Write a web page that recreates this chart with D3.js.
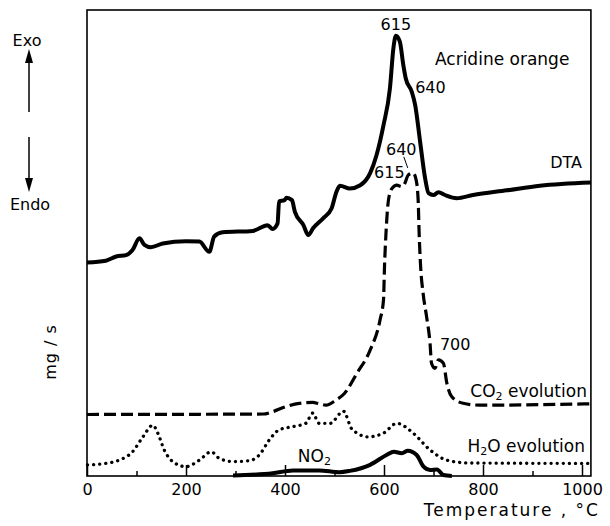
<!DOCTYPE html>
<html>
<head>
<meta charset="utf-8">
<script src="https://cdn.jsdelivr.net/npm/d3@7"></script>
<style>
  body { margin: 0; background: #fff; }
  text { font-family: "DejaVu Sans", sans-serif; font-size: 16px; fill: #000; }
  .tick line { stroke: #000; stroke-width: 1.5px; }
  .domain { display: none; }
</style>
</head>
<body>
<svg id="chart" width="610" height="526"></svg>
<script>
// temperature (°C) vs. arbitrary signal height
var dta = [[0,45.8],[38,46.2],[59,47.1],[79,47.4],[92,48.5],[106,51.0],[116,49.6],[129,49.1],
  [153,49.9],[200,50.4],[227,50.3],[247,48.1],[257,51.4],[274,52.3],[335,52.6],[365,53.8],
  [375,53.0],[385,54.2],[388,58.9],[399,59.2],[403,59.7],[414,59.2],[420,56.7],[437,53.9],
  [447,51.7],[457,53.2],[477,55.3],[494,57.4],[504,61.0],[511,62.3],[531,61.7],[552,62.4],
  [572,65.0],[585,68.9],[599,75.3],[612,83.2],[619,91.8],[624,94.5],[632,93.2],[639,88.2],
  [644,85.3],[656,82.5],[663,79.6],[673,71.7],[683,63.9],[690,60.7],[700,60.3],[710,60.9],
  [723,60.3],[747,59.6],[780,60.3],[848,61.3],[915,62.3],[1018,63.0]];

var co2 = [[0,13.2],[356,13.3],[375,13.8],[402,14.9],[429,15.6],[456,15.8],[469,15.5],[483,15.2],
  [503,16.3],[520,17.7],[545,22.0],[572,27.0],[592,33.5],[599,37.8],[601,44.9],[604,52.1],
  [609,59.2],[616,61.7],[626,62.4],[636,62.1],[642,62.8],[649,64.6],[659,65.0],[665,63.5],
  [669,59.2],[671,52.1],[674,44.9],[679,39.2],[686,34.2],[693,28.5],[696,24.2],[703,23.1],
  [710,24.9],[720,24.2],[727,19.9],[737,17.0],[760,15.6],[794,15.2],[1018,15.5]];

var h2o = [[1,2.4],[38,2.7],[65,3.4],[92,5.2],[113,8.4],[133,10.9],[143,9.2],[156,5.6],[173,3.1],
  [200,2.0],[227,3.4],[251,5.2],[267,3.8],[294,3.1],[328,3.3],[348,4.5],[368,7.7],[388,9.9],
  [416,10.6],[442,11.3],[456,13.5],[469,11.3],[491,11.3],[518,13.9],[535,10.1],[568,8.4],
  [599,9.2],[626,11.3],[659,9.2],[693,5.6],[727,3.4],[770,2.8],[1016,2.7]];

var no2 = [[295,0.1],[375,0.6],[416,1.2],[469,1.2],[510,0.8],[531,1.1],[572,2.4],[605,4.5],
  [620,5.2],[636,4.9],[648,5.4],[666,4.5],[680,2.0],[693,1.3],[707,1.4],[720,0.2],[737,0]];

var majorTicks = [0, 200, 400, 600, 800, 1000];
var minorTicks = [100, 300, 500, 700, 900];

// annotations: [text, temperature, height, anchor, font size]
var notes = [
  ["615", 624, 95.7, "middle", 16],
  ["640", 663, 82.2, "start", 16],
  ["Acridine orange", 703, 88.2, "start", 17],
  ["DTA", 1000, 66.1, "end", 16],
  ["640", 604, 68.9, "start", 16],
  ["615", 580, 64.0, "start", 16],
  ["700", 713, 27.0, "start", 16]
];

var svg = d3.select("#chart");

var x = d3.scaleLinear().domain([0, 1000]).range([87, 582]);
var y = d3.scaleLinear().domain([0, 100]).range([476, 10]);
var xEnd = 1018;

// frame
svg.append("rect")
  .attr("x", x(0)).attr("y", y(100))
  .attr("width", x(xEnd) - x(0)).attr("height", y(0) - y(100))
  .style("fill", "none").style("stroke", "#000").style("stroke-width", "1.6px");

// axis ticks point inward
svg.append("g")
  .attr("transform", "translate(0," + y(0) + ")")
  .call(d3.axisBottom(x).tickValues(majorTicks).tickFormat(d3.format("d"))
    .tickSizeInner(-11).tickSizeOuter(0).tickPadding(8));

svg.append("g")
  .attr("transform", "translate(0," + y(0) + ")")
  .call(d3.axisBottom(x).tickValues(minorTicks).tickSizeInner(-5).tickSizeOuter(0).tickFormat(""));

svg.selectAll(".tick text").style("font-size", "16px").style("font-family", "DejaVu Sans");

var line = d3.line()
  .x(function(d) { return x(d[0]); })
  .y(function(d) { return y(d[1]); })
  .curve(d3.curveMonotoneX);

svg.append("path").datum(dta).attr("d", line)
  .style("fill", "none").style("stroke", "#000").style("stroke-width", "4px")
  .style("stroke-linejoin", "round");

svg.append("path").datum(co2).attr("d", line)
  .style("fill", "none").style("stroke", "#000").style("stroke-width", "3.2px")
  .style("stroke-dasharray", "12,5");

svg.append("path").datum(h2o).attr("d", line)
  .style("fill", "none").style("stroke", "#000").style("stroke-width", "3.3px")
  .style("stroke-linecap", "round").style("stroke-dasharray", "0.1,6");

svg.append("path").datum(no2).attr("d", line)
  .style("fill", "none").style("stroke", "#000").style("stroke-width", "4px")
  .style("stroke-linejoin", "round");

// peak labels
svg.selectAll("text.note")
  .data(notes)
  .enter()
  .append("text")
  .attr("class", "note")
  .attr("x", function(d) { return x(d[1]); })
  .attr("y", function(d) { return y(d[2]); })
  .attr("text-anchor", function(d) { return d[3]; })
  .style("font-size", function(d) { return d[4] + "px"; })
  .text(function(d) { return d[0]; });

// leader from the CO2 "640" label
svg.append("line")
  .attr("x1", x(640)).attr("y1", y(68.5))
  .attr("x2", x(648)).attr("y2", y(66.1))
  .style("stroke", "#000").style("stroke-width", "1px");

// series labels with subscripts
function subLabel(parts, t, v, anchor) {
  var el = svg.append("text")
    .attr("x", x(t)).attr("y", y(v))
    .attr("text-anchor", anchor)
    .style("font-size", "17px");
  parts.forEach(function(p) {
    var ts = el.append("tspan").text(p[0]);
    if (p[1]) ts.style("font-size", "11px").attr("dy", 3);
    else if (el.selectAll("tspan").size() > 1) ts.attr("dy", -3);
  });
}
subLabel([["CO"], ["2", true], [" evolution"]], 1010, 17.0, "end");
subLabel([["H"], ["2", true], ["O evolution"]], 1006, 5.2, "end");
subLabel([["NO"], ["2", true]], 426, 3.0, "start");

// axis titles
svg.append("text")
  .attr("x", 600).attr("y", 516)
  .attr("text-anchor", "end")
  .style("font-size", "17px")
  .style("letter-spacing", "2px")
  .text("Temperature , °C");

svg.append("text")
  .attr("transform", "translate(56,352) rotate(-90)")
  .attr("text-anchor", "middle")
  .style("letter-spacing", "1px")
  .text("mg / s");

// Exo / Endo arrows
svg.append("text").attr("x", 27).attr("y", 46).attr("text-anchor", "middle").text("Exo");
svg.append("text").attr("x", 30).attr("y", 210).attr("text-anchor", "middle").text("Endo");

svg.append("line").attr("x1", 29).attr("x2", 29).attr("y1", 60).attr("y2", 112)
  .style("stroke", "#000").style("stroke-width", "1.5px");
svg.append("path").attr("d", "M29,49 L25,63 L33,63 Z").style("fill", "#000");
svg.append("line").attr("x1", 29).attr("x2", 29).attr("y1", 137).attr("y2", 182)
  .style("stroke", "#000").style("stroke-width", "1.5px");
svg.append("path").attr("d", "M29,192 L25,178 L33,178 Z").style("fill", "#000");
</script>
</body>
</html>
